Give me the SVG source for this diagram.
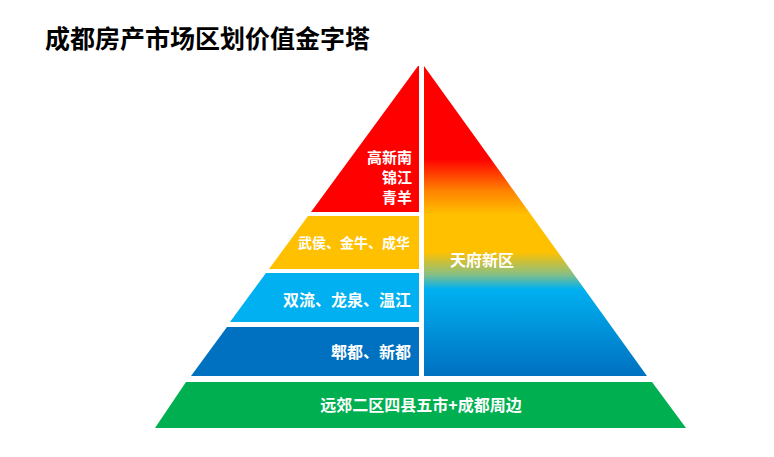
<svg xmlns="http://www.w3.org/2000/svg" width="774" height="457" viewBox="0 0 774 457">
<defs>
<linearGradient id="g" gradientUnits="userSpaceOnUse" x1="0" y1="66" x2="0" y2="376">
<stop offset="0" stop-color="#FF0000"/><stop offset="0.30" stop-color="#FF0000"/><stop offset="0.40" stop-color="#FF8000"/><stop offset="0.48" stop-color="#FFC000"/><stop offset="0.6" stop-color="#FFC000"/><stop offset="0.67" stop-color="#8CC080"/><stop offset="0.72" stop-color="#00B0F0"/><stop offset="1" stop-color="#0070C0"/>
</linearGradient>
<style>text{font-family:"Noto Sans CJK SC",sans-serif;font-weight:bold;fill:#fff}</style>
</defs>
<rect width="774" height="457" fill="#fff"/>
<text x="45" y="48" style="fill:#000;font-size:25px">成都房产市场区划价值金字塔</text>
<g id="red"><polygon points="418,66 419,66 419,212 311,212" fill="#FF0000"/>
<text text-anchor="end" x="412" y="163" font-size="15">高新南</text><text text-anchor="end" x="412" y="183" font-size="15">锦江</text><text text-anchor="end" x="412" y="203" font-size="15">青羊</text></g>
<g id="yellow"><polygon points="308,216 419,216 419,269 269,269" fill="#FFC000"/><text text-anchor="end" x="410" y="248" font-size="14">武侯、金牛、成华</text></g>
<g id="lightblue"><polygon points="266,273 419,273 419,322 230,322" fill="#00B0F0"/><text text-anchor="end" x="411" y="306" font-size="16">双流、龙泉、温江</text></g>
<g id="darkblue"><polygon points="227,327 419,327 419,376 191,376" fill="#0070C0"/><text text-anchor="end" x="411" y="358" font-size="16">郫都、新都</text></g>
<g id="tianfu"><polygon points="424,66 424,376 647,376" fill="url(#g)"/><text text-anchor="middle" x="482" y="266" font-size="16">天府新区</text></g>
<g id="green"><polygon points="186,382 652,382 686,428 155,428" fill="#00B050"/><text text-anchor="middle" x="421" y="411" font-size="16">远郊二区四县五市+成都周边</text></g>
<g id="connectors"/>
</svg>
